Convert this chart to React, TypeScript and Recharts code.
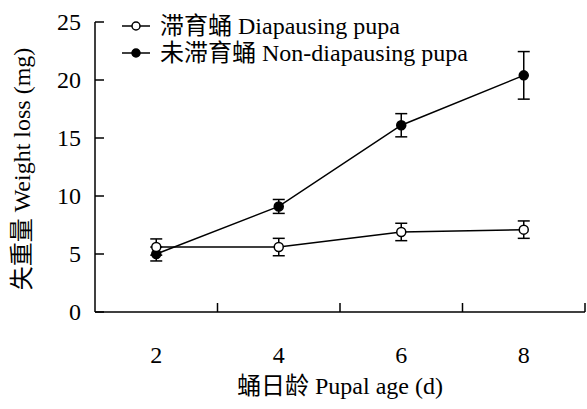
import { LineChart, Line, XAxis, YAxis, ErrorBar, Legend } from 'recharts';

const days = [2, 4, 6, 8];
const diapause = [5.6, 5.6, 6.9, 7.1];
const diapauseErr = [0.7, 0.75, 0.75, 0.75];
const nonDiapause = [5.0, 9.1, 16.1, 20.4];
const nonDiapauseErr = [0.6, 0.6, 1.0, 2.05];
const yTicks = [0, 5, 10, 15, 20, 25];
const xTicks = [2, 3, 4, 5, 6, 7, 8, 9];

const seriesNames = ['滞育蛹 Diapausing pupa', '未滞育蛹 Non-diapausing pupa'];

const data = days.map((d, i) => ({
  day: d,
  dia: diapause[i],
  diaErr: diapauseErr[i],
  non: nonDiapause[i],
  nonErr: nonDiapauseErr[i],
}));

const FONT = "'Times New Roman', 'Liberation Serif', 'Noto Sans CJK SC', serif";
const FS = 24;

function XTick({ x, y, payload }: any) {
  const v = payload.value;
  if (v % 2 === 1) {
    // category boundary tick, drawn inward
    return <line x1={x} x2={x} y1={y} y2={y - 9} stroke="#000" strokeWidth={1.5} />;
  }
  return (
    <text x={x} y={y + 43} dy="0.35em" textAnchor="middle" fontFamily={FONT} fontSize={FS} fill="#000">
      {v}
    </text>
  );
}

function YTick({ x, y, payload }: any) {
  return (
    <g>
      <line x1={x} x2={x + 9} y1={y} y2={y} stroke="#000" strokeWidth={1.5} />
      <text x={x - 14} y={y} dy="0.35em" textAnchor="end" fontFamily={FONT} fontSize={FS} fill="#000">
        {payload.value}
      </text>
    </g>
  );
}

function LegendBox() {
  return (
    <svg width={400} height={60}>
      {seriesNames.map((name, i) => (
        <g key={name} transform={`translate(0, ${14 + i * 27})`}>
          <line x1={2} x2={30} y1={0} y2={0} stroke="#000" strokeWidth={1.5} />
          <circle cx={16} cy={0} r={4} fill={i === 0 ? '#fff' : '#000'} stroke="#000" strokeWidth={1.5} />
          <text x={40} y={0} dy="0.35em" fontFamily={FONT} fontSize={FS} fill="#000">
            {name}
          </text>
        </g>
      ))}
    </svg>
  );
}

export default function App() {
  return (
    <div style={{ position: 'absolute', left: 0, top: 0, background: '#fff' }}>
      <LineChart width={587} height={409} data={data} margin={{ top: 22, right: 2, left: 0, bottom: 0 }}>
        <XAxis
          dataKey="day"
          type="number"
          domain={[1, 9]}
          ticks={xTicks}
          interval={0}
          height={97}
          tickSize={0}
          tickMargin={0}
          tickLine={false}
          stroke="#000"
          strokeWidth={1.5}
          tick={<XTick />}
          label={({ viewBox }: any) => (
            <text
              x={viewBox.x + viewBox.width / 2}
              y={386}
              dy="0.35em"
              textAnchor="middle"
              fontFamily={FONT}
              fontSize={FS}
              fill="#000"
            >
              蛹日龄 Pupal age (d)
            </text>
          )}
        />
        <YAxis
          domain={[0, 25]}
          ticks={yTicks}
          interval={0}
          width={95}
          tickSize={0}
          tickMargin={0}
          tickLine={false}
          stroke="#000"
          strokeWidth={1.5}
          tick={<YTick />}
          label={({ viewBox }: any) => {
            const cx = 22;
            const cy = viewBox.y + viewBox.height / 2 + 2;
            return (
              <text
                x={cx}
                y={cy}
                dy="0.35em"
                textAnchor="middle"
                transform={`rotate(-90, ${cx}, ${cy})`}
                fontFamily={FONT}
                fontSize={FS}
                fill="#000"
              >
                失重量 Weight loss (mg)
              </text>
            );
          }}
        />
        <Legend
          layout="vertical"
          align="center"
          verticalAlign="middle"
          wrapperStyle={{ top: 12, left: 120, width: 400 }}
          content={() => <LegendBox />}
        />
        <Line
          dataKey="non"
          name={seriesNames[1]}
          stroke="#000"
          strokeWidth={1.5}
          dot={{ r: 4.5, fill: '#000', stroke: '#000', strokeWidth: 1.5 }}
          isAnimationActive={false}
        >
          <ErrorBar dataKey="nonErr" direction="y" width={6} stroke="#000" strokeWidth={1.5} />
        </Line>
        <Line
          dataKey="dia"
          name={seriesNames[0]}
          stroke="#000"
          strokeWidth={1.5}
          dot={{ r: 4.5, fill: '#fff', stroke: '#000', strokeWidth: 1.5 }}
          isAnimationActive={false}
        >
          <ErrorBar dataKey="diaErr" direction="y" width={6} stroke="#000" strokeWidth={1.5} />
        </Line>
      </LineChart>
    </div>
  );
}
